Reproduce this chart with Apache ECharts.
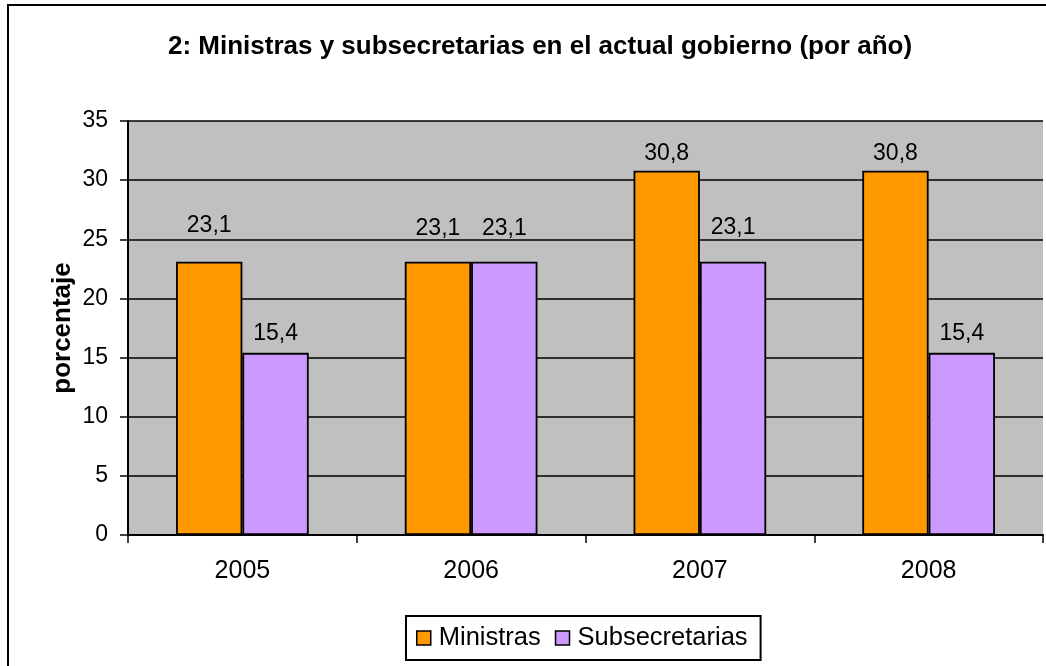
<!DOCTYPE html>
<html>
<head>
<meta charset="utf-8">
<script src="https://cdn.jsdelivr.net/npm/echarts@6/dist/echarts.min.js"></script>
<style>
html,body{margin:0;padding:0;background:#fff;}
#chart{width:1046px;height:666px;}
</style>
</head>
<body>
<div id="chart"></div>
<script>
const categories = ['2005', '2006', '2007', '2008'];
const ministras = [23.1, 23.1, 30.8, 30.8];
const subsecretarias = [15.4, 23.1, 23.1, 15.4];
const yTicks = [0, 5, 10, 15, 20, 25, 30, 35];

const FONT = '"Liberation Sans", Arial, sans-serif';
const fmt = p => String(p.value).replace('.', ',');

// label distances (style) per point, matching the reference placement
const minDist = [25, 22, 6, 6];
const subDist = [8, 22, 23, 8];

function build(values, dists) {
  return values.map((v, i) => ({ value: v, label: { distance: dists[i] } }));
}

const chart = echarts.init(document.getElementById('chart'), null, { renderer: 'canvas' });
chart.setOption({
  animation: false,
  backgroundColor: '#fff',
  textStyle: { fontFamily: FONT },
  title: {
    text: '2: Ministras y subsecretarias en el actual gobierno (por año)',
    left: 535, textAlign: 'center', top: 29,
    textStyle: { fontFamily: FONT, fontWeight: 'bold', fontSize: 26, color: '#000' }
  },
  graphic: [{
    type: 'rect', shape: { x: 8, y: 5, width: 1100, height: 700 },
    style: { fill: 'none', stroke: '#000', lineWidth: 2 }, z: 100, silent: true
  }],
  legend: {
    left: 406, top: 616,
    padding: [9, 13, 9, 10],
    itemGap: 14, itemWidth: 14, itemHeight: 14,
    borderColor: '#000', borderWidth: 2,
    icon: 'rect',
    itemStyle: { borderColor: '#000', borderWidth: 1.5 },
    textStyle: { fontFamily: FONT, fontSize: 25.5, color: '#000', padding: [0, 0, 0, 3] },
    data: ['Ministras', 'Subsecretarias']
  },
  grid: {
    left: 128, right: 3, top: 121, bottom: 131,
    show: true, backgroundColor: '#c0c0c0', borderWidth: 0
  },
  xAxis: {
    type: 'category', data: categories,
    axisLine: { lineStyle: { color: '#000', width: 2 } },
    axisTick: { show: true, inside: false, length: 8, alignWithLabel: false, lineStyle: { color: '#000', width: 1.5 } },
    axisLabel: { fontFamily: FONT, fontSize: 25, color: '#000', margin: 24 }
  },
  yAxis: {
    type: 'value', min: 0, max: 35, interval: 5,
    name: 'porcentaje', nameLocation: 'middle', nameGap: 52, nameRotate: 90,
    nameMoveOverlap: false,
    nameTextStyle: { fontFamily: FONT, fontWeight: 'bold', fontSize: 26, color: '#000' },
    axisLine: { show: true, lineStyle: { color: '#000', width: 2 } },
    axisTick: { show: true, inside: false, length: 8, lineStyle: { color: '#000', width: 1.5 } },
    axisLabel: { fontFamily: FONT, fontSize: 23, color: '#000', margin: 20,
      formatter: v => yTicks.includes(v) ? String(v) : '' },
    splitLine: { show: true, lineStyle: { color: '#000', width: 1.5 } }
  },
  series: [
    {
      name: 'Ministras', type: 'bar', data: build(ministras, minDist),
      barGap: '0%', barCategoryGap: '42%',
      itemStyle: { color: '#ff9900', borderColor: '#000', borderWidth: 1.8 },
      label: { show: true, position: 'top', formatter: fmt, fontFamily: FONT, fontSize: 23, color: '#000' }
    },
    {
      name: 'Subsecretarias', type: 'bar', data: build(subsecretarias, subDist),
      barGap: '0%', barCategoryGap: '42%',
      itemStyle: { color: '#cc99ff', borderColor: '#000', borderWidth: 1.8 },
      label: { show: true, position: 'top', formatter: fmt, fontFamily: FONT, fontSize: 23, color: '#000' }
    }
  ]
});
</script>
</body>
</html>
